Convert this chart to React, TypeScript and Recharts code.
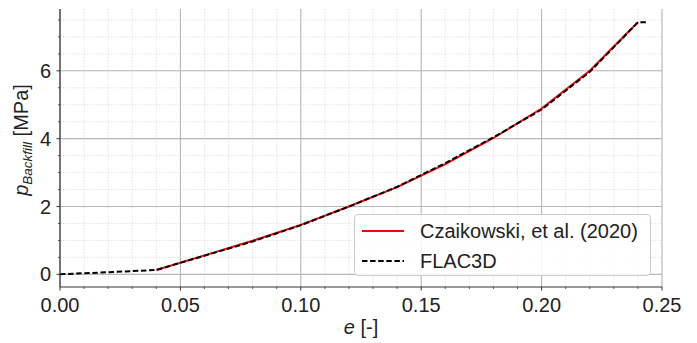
import React from 'react';
import { LineChart, Line, XAxis, YAxis, CartesianGrid, Legend } from 'recharts';

// Czaikowski, et al. (2020)
const eCzaikowski = [0.04, 0.06, 0.08, 0.1, 0.12, 0.14, 0.16, 0.18, 0.2, 0.22, 0.24];
const pCzaikowski = [0.13, 0.56, 0.99, 1.46, 2.0, 2.57, 3.25, 4.02, 4.89, 6.0, 7.43];

// FLAC3D
const eFlac = [0, 0.04, 0.06, 0.08, 0.1, 0.12, 0.14, 0.16, 0.18, 0.2, 0.22, 0.24, 0.244];
const pFlac = [0, 0.13, 0.55, 0.97, 1.45, 2.0, 2.58, 3.28, 4.04, 4.86, 5.97, 7.43, 7.43];

const xMajorTicks = [0, 0.05, 0.1, 0.15, 0.2, 0.25];
const xTickLabels = ['0.00', '0.05', '0.10', '0.15', '0.20', '0.25'];
const xMinorTicks = [
  0, 0.01, 0.02, 0.03, 0.04, 0.05, 0.06, 0.07, 0.08, 0.09, 0.1, 0.11, 0.12, 0.13,
  0.14, 0.15, 0.16, 0.17, 0.18, 0.19, 0.2, 0.21, 0.22, 0.23, 0.24, 0.25,
];
const yMajorTicks = [0, 2, 4, 6];
const yTickLabels = ['0', '2', '4', '6'];
const yMinorTicks = [0, 0.5, 1, 1.5, 2, 2.5, 3, 3.5, 4, 4.5, 5, 5.5, 6, 6.5, 7, 7.5];

const seriesNames = ['Czaikowski, et al. (2020)', 'FLAC3D'];

const czData = eCzaikowski.map((e, i) => ({ e, p: pCzaikowski[i] }));
const flacData = eFlac.map((e, i) => ({ e, p: pFlac[i] }));

const FONT = '"Liberation Sans", Arial, Helvetica, sans-serif';
const FS = 20;
const AXIS_COLOR = '#333333';

const isIn = (arr: number[], v: number) => arr.findIndex((a) => Math.abs(a - v) < 1e-9);

const XTick = (props: any) => {
  const { x, y, payload } = props;
  const idx = isIn(xMajorTicks, payload.value);
  const major = idx >= 0;
  return (
    <g>
      <line x1={x} x2={x} y1={y} y2={y + (major ? 3.5 : 2)} stroke={AXIS_COLOR} strokeWidth={major ? 1 : 0.8} />
      {major && (
        <text x={x} y={y + 25} textAnchor="middle" fontFamily={FONT} fontSize={FS} fill="#222">
          {xTickLabels[idx]}
        </text>
      )}
    </g>
  );
};

const YTick = (props: any) => {
  const { x, y, payload } = props;
  const idx = isIn(yMajorTicks, payload.value);
  const major = idx >= 0;
  return (
    <g>
      <line x1={x} x2={x - (major ? 3.5 : 2)} y1={y} y2={y} stroke={AXIS_COLOR} strokeWidth={major ? 1 : 0.8} />
      {major && (
        <text x={x - 9} y={y} dy="0.35em" textAnchor="end" fontFamily={FONT} fontSize={FS} fill="#222">
          {yTickLabels[idx]}
        </text>
      )}
    </g>
  );
};

const YLabel = (props: any) => {
  const vb = props.viewBox || { x: 0, y: 9, width: 60, height: 278 };
  const cx = vb.x + 28;
  const cy = vb.y + vb.height / 2 - 8;
  return (
    <text
      x={cx}
      y={cy}
      transform={`rotate(-90, ${cx}, ${cy})`}
      textAnchor="middle"
      fontFamily={FONT}
      fontSize={FS}
      fill="#222"
    >
      <tspan fontStyle="italic">p</tspan>
      <tspan fontStyle="italic" fontSize={13.5} dy={4}>Backfill</tspan>
      <tspan dy={-4}> [MPa]</tspan>
    </text>
  );
};

const XLabel = (props: any) => {
  const vb = props.viewBox || { x: 60, y: 287, width: 602, height: 56 };
  const cx = vb.x + vb.width / 2;
  return (
    <text x={cx} y={vb.y + 47} textAnchor="middle" fontFamily={FONT} fontSize={FS} fill="#222">
      <tspan fontStyle="italic">e</tspan>
      <tspan> [-]</tspan>
    </text>
  );
};

const LegendContent = () => (
  <div
    style={{
      width: 297,
      height: 62,
      boxSizing: 'border-box',
      border: '1px solid #cccccc',
      borderRadius: 4,
      background: 'rgba(255,255,255,0.85)',
      fontFamily: FONT,
      fontSize: FS,
      color: '#222',
      position: 'relative',
    }}
  >
    {seriesNames.map((name, i) => (
      <div
        key={name}
        style={{
          position: 'absolute',
          left: 0,
          top: 1 + i * 30,
          height: 30,
          width: '100%',
          display: 'flex',
          alignItems: 'center',
        }}
      >
        <svg width={65} height={30} style={{ display: 'block' }}>
          <line
            x1={7}
            x2={49}
            y1={15}
            y2={15}
            stroke={i === 0 ? '#ff0000' : '#000000'}
            strokeWidth={2}
            strokeDasharray={i === 0 ? undefined : '5.5 2.6'}
          />
        </svg>
        <span style={{ lineHeight: '30px', whiteSpace: 'nowrap' }}>{name}</span>
      </div>
    ))}
  </div>
);

export default function App() {
  return (
    <div style={{ position: 'absolute', left: 0, top: 0, background: '#fff' }}>
      <LineChart width={697} height={343} margin={{ top: 9, right: 35, bottom: 0, left: 0 }}>
        <CartesianGrid
          verticalValues={xMinorTicks}
          horizontalValues={yMinorTicks}
          stroke="#e0e0e0"
          strokeDasharray="1.5 1.5"
          strokeWidth={0.9}
        />
        <CartesianGrid
          verticalValues={xMajorTicks}
          horizontalValues={yMajorTicks}
          stroke="#b8b8b8"
          strokeWidth={1.1}
        />
        <XAxis
          dataKey="e"
          type="number"
          domain={[0, 0.25]}
          ticks={xMinorTicks}
          interval={0}
          allowDataOverflow
          height={56}
          tickSize={0}
          tickMargin={0}
          tickLine={false}
          tick={<XTick />}
          axisLine={{ stroke: AXIS_COLOR, strokeWidth: 1.2 }}
          label={<XLabel />}
        />
        <XAxis
          xAxisId="top"
          orientation="top"
          type="number"
          domain={[0, 0.25]}
          height={0}
          tick={false}
          tickLine={false}
          axisLine={{ stroke: AXIS_COLOR, strokeWidth: 1.2 }}
        />
        <YAxis
          type="number"
          domain={[-0.3725, 7.8225]}
          ticks={yMinorTicks}
          interval={0}
          allowDataOverflow
          width={60}
          tickSize={0}
          tickMargin={0}
          tickLine={false}
          tick={<YTick />}
          axisLine={{ stroke: AXIS_COLOR, strokeWidth: 1.2 }}
          label={<YLabel />}
        />
        <YAxis
          yAxisId="right"
          orientation="right"
          type="number"
          domain={[-0.3725, 7.8225]}
          width={0}
          tick={false}
          tickLine={false}
          axisLine={{ stroke: AXIS_COLOR, strokeWidth: 1.2 }}
        />
        <Line
          data={czData}
          dataKey="p"
          name={seriesNames[0]}
          type="linear"
          stroke="#ff0000"
          strokeWidth={2}
          dot={false}
          activeDot={false}
          isAnimationActive={false}
        />
        <Line
          data={flacData}
          dataKey="p"
          name={seriesNames[1]}
          type="linear"
          stroke="#000000"
          strokeWidth={2}
          strokeDasharray="5.5 2.6"
          dot={false}
          activeDot={false}
          isAnimationActive={false}
        />
        <Legend
          layout="vertical"
          align="center"
          verticalAlign="middle"
          content={<LegendContent />}
          wrapperStyle={{ left: 354, top: 214, width: 297, height: 62 }}
        />
      </LineChart>
    </div>
  );
}
